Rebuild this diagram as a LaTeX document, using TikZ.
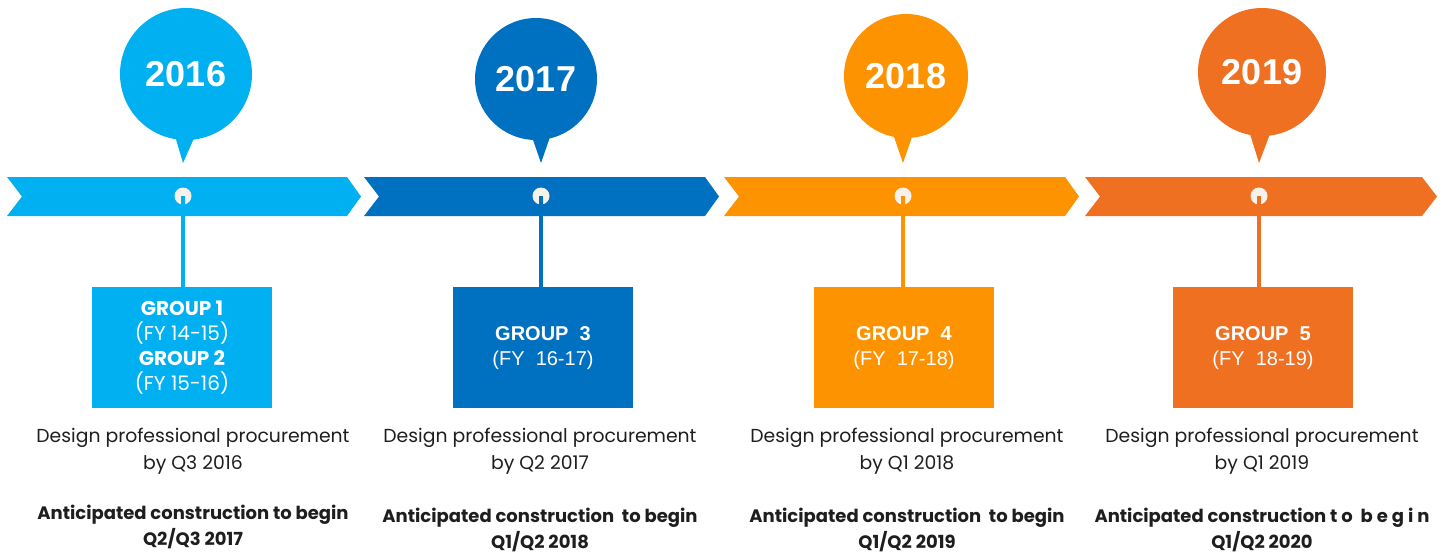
\documentclass[tikz,border=0pt]{standalone}
\usepackage{fontspec}
\setmainfont{Poppins}
\newfontfamily\arial{Liberation Sans}
\definecolor{cA}{HTML}{00B0F0}
\definecolor{cB}{HTML}{0070C0}
\definecolor{cC}{HTML}{FD9300}
\definecolor{cD}{HTML}{F07022}
\definecolor{txt}{HTML}{1E1E1E}
\definecolor{dotc}{HTML}{F6F1EA}
\tikzset{
  bubble/.style={circle, fill=#1, minimum size=128pt, inner sep=0pt, text=white,
     font=\arial\bfseries\fontsize{36}{40}\selectfont},
  band/.style={fill=#1},
  dotnode/.style={circle, fill=dotc, minimum size=17pt, inner sep=0pt},
  groupbox/.style={fill=#1, minimum width=180pt, minimum height=121pt, inner sep=0pt,
     anchor=north, text=white, align=center},
  gfirst/.style={groupbox=#1, font=\fontsize{20}{25}\selectfont},
  gother/.style={groupbox=#1, font=\arial\fontsize{20}{25}\selectfont},
  stem/.style={draw=#1, line width=3.5pt},
  desc/.style={text=txt, align=center, font=\fontsize{18.8}{27}\selectfont, inner sep=0pt},
  ant/.style={text=txt, align=center, font=\bfseries\fontsize{18}{26}\selectfont, inner sep=0pt},
}
\begin{document}
\begin{tikzpicture}[x=1pt,y=-1pt]
\useasboundingbox (0,0) rectangle (1452,554);
% ---- bands
\foreach \xa/\xb/\xt/\c in {7/347/361/cA, 364/705/719/cB, 724/1065/1079/cC, 1085/1422/1437/cD}{
  \fill[band=\c] (\xa,177) -- (\xb,177) -- (\xt,196.5) -- (\xb,216) -- (\xa,216) -- (\xa+15,196.5) -- cycle;
}
% ---- bubbles with pointers
\fill[cA] (175,136) -- (195,136) -- (183,163) -- cycle;
\fill[cB] (531,134) -- (551,134) -- (541,163) -- cycle;
\fill[cC] (893,134) -- (913,134) -- (903,163) -- cycle;
\fill[cD] (1250,134) -- (1270,134) -- (1259,163) -- cycle;
\node[bubble=cA, minimum size=132pt] (y1) at (186,74) {2016};
\node[bubble=cB, minimum size=122pt] (y2) at (536,79) {2017};
\node[bubble=cC, minimum size=124pt] (y3) at (906,76) {2018};
\node[bubble=cD, minimum size=128pt] (y4) at (1262,72) {2019};
% ---- dots
\node[dotnode] (d1) at (183,196) {};
\node[dotnode] (d2) at (541,196) {};
\node[dotnode] (d3) at (903,196) {};
\node[dotnode] (d4) at (1259,196) {};
% ---- boxes
\node[gfirst=cA] (g1) at (182,287) {%
  \textbf{GROUP 1}\\ (FY 14-15)\\ \textbf{GROUP 2}\\ (FY 15-16)};
\node[gother=cB] (g2) at (543,287) {\textbf{GROUP\ \ 3}\\ (FY\ \ 16-17)};
\node[gother=cC] (g3) at (904,287) {\textbf{GROUP\ \ 4}\\ (FY\ \ 17-18)};
\node[gother=cD] (g4) at (1263,287) {\textbf{GROUP\ \ 5}\\ (FY\ \ 18-19)};
% ---- stems
\draw[stem=cA] (d1.center) -- (g1.north -| d1);
\draw[stem=cB] (d2.center) -- (g2.north -| d2);
\draw[stem=cC] (d3.center) -- (g3.north -| d3);
\draw[stem=cD] (d4.center) -- (g4.north -| d4);
% ---- descriptions
\node[desc] (t1) at (193,451) {Design professional procurement\\by Q3 2016};
\node[desc] (t2) at (540,451) {Design professional procurement\\by Q2 2017};
\node[desc] (t3) at (907,451) {Design professional procurement\\by Q1 2018};
\node[desc] (t4) at (1262,451) {Design professional procurement\\by Q1 2019};
\node[ant] (a1) at (193,527) {Anticipated construction to begin\\Q2/Q3 2017};
\node[ant] (a2) at (540,530) {Anticipated construction\ \ to begin\\Q1/Q2 2018};
\node[ant] (a3) at (907,530) {Anticipated construction\ \ to begin\\Q1/Q2 2019};
\node[ant] (a4) at (1262,530) {Anticipated construction {\addfontfeature{LetterSpace=22}to begin}\\Q1/Q2 2020};
\end{tikzpicture}
\end{document}
